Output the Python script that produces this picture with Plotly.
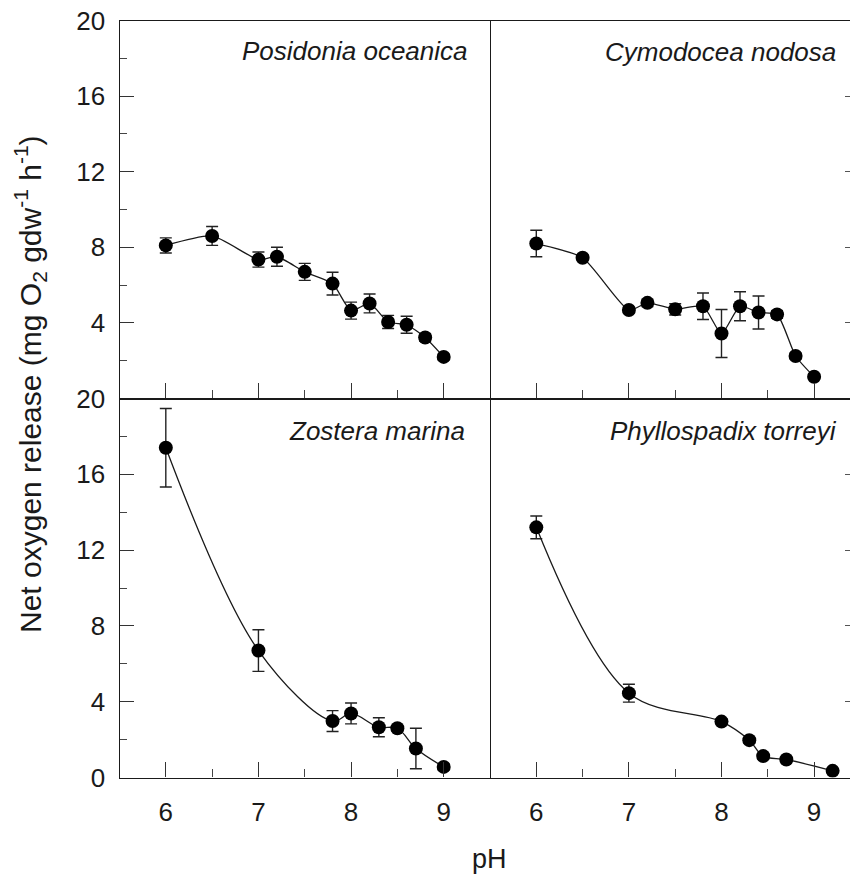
import plotly.graph_objects as go

# ---------------- data ----------------
ph_posidonia = [6.0, 6.5, 7.0, 7.2, 7.5, 7.8, 8.0, 8.2, 8.4, 8.6, 8.8, 9.0]
o2_posidonia = [8.1, 8.6, 7.35, 7.5, 6.7, 6.08, 4.65, 5.03, 4.05, 3.9, 3.23, 2.2]
err_posidonia = [0.4, 0.5, 0.4, 0.5, 0.45, 0.6, 0.45, 0.5, 0.35, 0.45, 0.2, 0.15]

ph_cymodocea = [6.0, 6.5, 7.0, 7.2, 7.5, 7.8, 8.0, 8.2, 8.4, 8.6, 8.8, 9.0]
o2_cymodocea = [8.2, 7.45, 4.68, 5.06, 4.72, 4.88, 3.44, 4.88, 4.55, 4.45, 2.25, 1.15]
err_cymodocea = [0.7, 0.15, 0.15, 0.2, 0.3, 0.7, 1.27, 0.77, 0.87, 0.2, 0.15, 0.15]

ph_zostera = [6.0, 7.0, 7.8, 8.0, 8.3, 8.5, 8.7, 9.0]
o2_zostera = [17.4, 6.7, 2.98, 3.38, 2.65, 2.6, 1.53, 0.56]
err_zostera = [2.07, 1.1, 0.55, 0.55, 0.5, 0.15, 1.07, 0.15]

ph_phyllospadix = [6.0, 7.0, 8.0, 8.3, 8.45, 8.7, 9.2]
o2_phyllospadix = [13.2, 4.45, 2.95, 1.97, 1.13, 0.95, 0.35]
err_phyllospadix = [0.6, 0.47, 0.15, 0.15, 0.15, 0.1, 0.1]

species = ["Posidonia oceanica", "Cymodocea nodosa", "Zostera marina", "Phyllospadix torreyi"]
x_ticks = [6, 7, 8, 9]
y_ticks_top = [4, 8, 12, 16, 20]
y_ticks_bottom = [0, 4, 8, 12, 16, 20]
y_minor = [2, 6, 10, 14, 18]

FONT = "Liberation Sans, Arial, Helvetica, sans-serif"
INK = "#1a1a1a"

fig = go.Figure()

series = [
    (ph_posidonia, o2_posidonia, err_posidonia, "x", "y", 0.6),
    (ph_cymodocea, o2_cymodocea, err_cymodocea, "x2", "y2", 0.6),
    (ph_zostera, o2_zostera, err_zostera, "x3", "y3", 1.0),
    (ph_phyllospadix, o2_phyllospadix, err_phyllospadix, "x4", "y4", 1.0),
]
for xs, ys, es, xa, ya, sm in series:
    fig.add_trace(go.Scatter(
        x=xs, y=ys, xaxis=xa, yaxis=ya, mode="lines+markers",
        line=dict(color=INK, width=1.3, shape="spline", smoothing=sm),
        marker=dict(color="black", size=14),
        error_y=dict(type="data", array=es, visible=True, color="#222", thickness=1.4, width=6),
        showlegend=False,
    ))

# geometry (paper fractions)
xl = [119.5 / 850, 490 / 850]
xr = [490 / 850, 1.0]
yt = [1 - 398.5 / 882, 1 - 20.5 / 882]
yb = [1 - 777.5 / 882, 1 - 398.5 / 882]

def xaxis(domain, rng, anchor, labels):
    return dict(
        domain=domain, range=rng, anchor=anchor, automargin=False,
        showline=True, mirror=True, linecolor=INK, linewidth=1.4,
        showgrid=False, zeroline=False,
        tickmode="array", tickvals=x_ticks,
        ticks="inside", ticklen=15, tickwidth=1.3, tickcolor="#333",
        minor=dict(dtick=0.5, tick0=6, ticks="inside", ticklen=8, tickwidth=1.2, tickcolor="#444"),
        showticklabels=labels, ticklabelstandoff=11,
        tickfont=dict(family=FONT, size=26, color=INK),
    )

def yaxis_left(domain, anchor, vals):
    return dict(
        domain=domain, range=[0, 20], anchor=anchor, automargin=False,
        showline=True, mirror=True, linecolor=INK, linewidth=1.4,
        showgrid=False, zeroline=False,
        tickmode="array", tickvals=vals,
        ticks="inside", ticklen=14, tickwidth=1.3, tickcolor="#333",
        minor=dict(tickmode="array", tickvals=y_minor, ticks="inside", ticklen=7, tickwidth=1.2, tickcolor="#444"),
        showticklabels=True, ticklabelstandoff=8,
        tickfont=dict(family=FONT, size=26, color=INK),
    )

def yaxis_right(domain, anchor):
    return dict(
        domain=domain, range=[0, 20], anchor=anchor, side="right", automargin=False,
        showline=False, showgrid=False, zeroline=False,
        tickmode="array", tickvals=[4, 8, 12, 16],
        ticks="inside", ticklen=5, tickwidth=1.2, tickcolor="#555",
        showticklabels=False,
    )

x_right_max = 5.5 + 360 / 92.6

fig.update_layout(
    width=850, height=882,
    margin=dict(l=0, r=0, t=0, b=0, autoexpand=False),
    paper_bgcolor="white", plot_bgcolor="white",
    font=dict(family=FONT, color=INK),
    xaxis=xaxis(xl, [5.5, 9.5], "y", False),
    yaxis=yaxis_left(yt, "x", y_ticks_top),
    xaxis2=xaxis(xr, [5.5, x_right_max], "y2", False),
    yaxis2=yaxis_right(yt, "x2"),
    xaxis3=xaxis(xl, [5.5, 9.5], "y3", True),
    yaxis3=yaxis_left(yb, "x3", y_ticks_bottom),
    xaxis4=xaxis(xr, [5.5, x_right_max], "y4", True),
    yaxis4=yaxis_right(yb, "x4"),
)

ann = []
title_pos = [(470, 51), (838, 52), (467, 431), (839, 431)]
for name, (px, py) in zip(species, title_pos):
    ann.append(dict(
        text="<i>%s</i>" % name, xref="paper", yref="paper",
        x=px / 850, y=1 - py / 882, xanchor="right", yanchor="middle",
        showarrow=False, font=dict(family=FONT, size=26, color=INK),
    ))
ann.append(dict(
    text="Net oxygen release (mg O<sub>2</sub> gdw<sup>-1</sup> h<sup>-1</sup>)",
    xref="paper", yref="paper", x=30 / 850, y=1 - 384 / 882,
    xanchor="center", yanchor="middle", textangle=-90, showarrow=False,
    font=dict(family=FONT, size=30, color=INK),
))
ann.append(dict(
    text="pH", xref="paper", yref="paper", x=489 / 850, y=1 - 859 / 882,
    xanchor="center", yanchor="middle", showarrow=False,
    font=dict(family=FONT, size=27, color=INK),
))
fig.update_layout(annotations=ann)

fig.write_html("out.html", config={"responsive": False})
